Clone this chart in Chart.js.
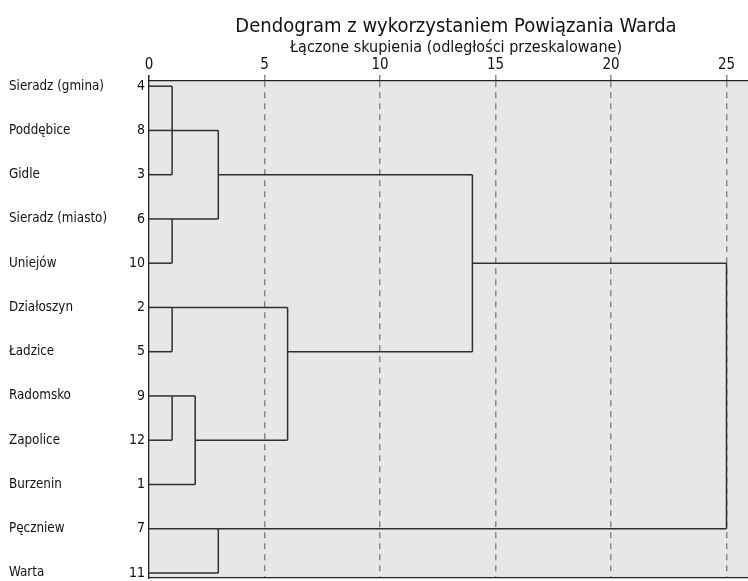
<!DOCTYPE html>
<html>
<head>
<meta charset="utf-8">
<script src="https://cdn.jsdelivr.net/npm/chart.js@4.4.1/dist/chart.umd.min.js"></script>
<style>
  html, body { margin: 0; padding: 0; background: #fff; overflow: hidden; }
  #wrap { width: 763px; height: 581px; }
</style>
</head>
<body>
<div id="wrap"><canvas id="myChart"></canvas></div>
<script>
// dane dendrogramu (Ward)
const caseNames = ['Sieradz (gmina)', 'Poddębice', 'Gidle', 'Sieradz (miasto)', 'Uniejów',
  'Działoszyn', 'Ładzice', 'Radomsko', 'Zapolice', 'Burzenin', 'Pęczniew', 'Warta'];
const caseNumbers = [4, 8, 3, 6, 10, 2, 5, 9, 12, 1, 7, 11];
const xTickValues = [0, 5, 10, 15, 20, 25];

// children: leaf row index (0-11) or 12 + index of an earlier merge
const mergeChildren = [[0, 1, 2], [3, 4], [12, 13], [5, 6], [7, 8], [16, 9], [15, 17], [14, 18], [10, 11], [19, 20]];
const mergeHeights = [1, 1, 3, 1, 1, 2, 6, 14, 3, 25];

const titleText = 'Dendogram z wykorzystaniem Powiązania Warda';
const axisTitle = 'Łączone skupienia (odległości przeskalowane)';

const fontFamily = "'Liberation Sans Narrow', 'Arial Narrow', 'DejaVu Sans Condensed', sans-serif";

// build line segments from the merges
const n = caseNames.length;
let nodeRow = [];
let nodeHeight = [];
for (let i = 0; i < n; i++) { nodeRow.push(i); nodeHeight.push(0); }

let segments = [];
mergeChildren.forEach(function (children, j) {
  const h = mergeHeights[j];
  let rows = children.map(c => nodeRow[c]);
  children.forEach(function (c) {
    segments.push([{ x: nodeHeight[c], y: nodeRow[c] }, { x: h, y: nodeRow[c] }]);
  });
  const lo = Math.min(...rows), hi = Math.max(...rows);
  segments.push([{ x: h, y: lo }, { x: h, y: hi }]);
  nodeRow.push(Math.floor((lo + hi) / 2));
  nodeHeight.push(h);
});

const datasets = segments.map(seg => ({
  data: seg,
  showLine: true,
  borderColor: '#2e2e2e',
  borderWidth: 1.5,
  pointRadius: 0,
  fill: false,
  xAxisID: 'x',
  yAxisID: 'y'
}));

const yMin = -0.117, yMax = 11.114;
const xMin = 0, xMax = 26.58;

// fresh tick objects for each axis (labels are stored on them)
function rowTicks(scale) {
  scale.ticks = caseNames.map((_, i) => ({ value: i }));
}

// plot background + main title
const plotBackground = {
  id: 'plotBackground',
  beforeDraw(chart) {
    const { ctx, chartArea } = chart;
    ctx.save();
    ctx.fillStyle = '#e6e7e9';
    ctx.fillRect(chartArea.left, chartArea.top, chartArea.right - chartArea.left, chartArea.bottom - chartArea.top);
    ctx.restore();
  },
  afterDraw(chart) {
    const { ctx, chartArea } = chart;
    ctx.save();
    ctx.font = '20px ' + fontFamily;
    ctx.fillStyle = '#111';
    ctx.textAlign = 'center';
    ctx.textBaseline = 'alphabetic';
    ctx.fillText(titleText, (chartArea.left + chartArea.right) / 2, 32);
    ctx.restore();
  }
};

const ctx = document.getElementById('myChart').getContext('2d');
let myChart = new Chart(ctx, {
  type: 'scatter',
  data: { datasets: datasets },
  plugins: [plotBackground],
  options: {
    responsive: true,
    maintainAspectRatio: false,
    animation: false,
    layout: { autoPadding: false, padding: { left: 9, right: 0, top: 0, bottom: 0 } },
    plugins: {
      legend: { display: false },
      tooltip: { enabled: false },
      title: { display: false }
    },
    scales: {
      x: {
        type: 'linear',
        position: 'top',
        min: xMin,
        max: xMax,
        afterBuildTicks: s => { s.ticks = xTickValues.map(v => ({ value: v })); },
        afterFit: s => { s.height = 81; },
        grid: {
          color: c => (c.tick && c.tick.value === 0) ? 'rgba(0,0,0,0)' : '#888',
          tickColor: c => (c.tick && c.tick.value === 0) ? '#222' : '#888',
          lineWidth: 1.5,
          drawTicks: true,
          tickLength: 6
        },
        border: { display: true, color: '#222', width: 1.3, dash: [6, 5] },
        ticks: { color: '#111', padding: 1, font: { family: fontFamily, size: 15 } },
        title: {
          display: true,
          text: axisTitle,
          color: '#111',
          padding: { top: 38, bottom: 0 },
          font: { family: fontFamily, size: 16 }
        }
      },
      xb: {
        type: 'linear',
        position: 'bottom',
        min: xMin,
        max: xMax,
        afterFit: s => { s.height = 3; },
        grid: { display: false, drawTicks: false },
        border: { display: true, color: '#222', width: 1.3 },
        ticks: { display: false }
      },
      y: {
        type: 'linear',
        position: 'left',
        reverse: true,
        min: yMin,
        max: yMax,
        weight: 0,
        afterBuildTicks: rowTicks,
        afterFit: s => { s.width = 25; s.paddingTop = 0; s.paddingBottom = 0; },
        grid: { display: false, drawTicks: false },
        border: { display: true, color: '#222', width: 1.3 },
        ticks: {
          color: '#111',
          padding: 4,
          crossAlign: 'near',
          font: { family: fontFamily, size: 14 },
          callback: v => caseNumbers[v]
        }
      },
      yNames: {
        type: 'linear',
        position: 'left',
        reverse: true,
        min: yMin,
        max: yMax,
        weight: 1,
        afterBuildTicks: rowTicks,
        afterFit: s => { s.width = 115; s.paddingTop = 0; s.paddingBottom = 0; },
        grid: { display: false, drawTicks: false },
        border: { display: false },
        ticks: {
          color: '#111',
          padding: 0,
          crossAlign: 'far',
          font: { family: fontFamily, size: 13.3 },
          callback: v => caseNames[v]
        }
      }
    }
  }
});
</script>
</body>
</html>
